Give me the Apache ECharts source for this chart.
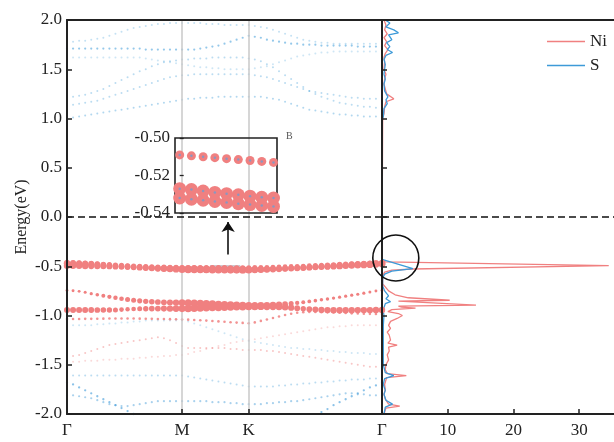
<!DOCTYPE html>
<html>
<head>
<meta charset="utf-8">
<script src="https://cdn.jsdelivr.net/npm/echarts@6/dist/echarts.min.js"></script>
<style>
  html, body { margin: 0; padding: 0; background: #fff; }
  #main { width: 614px; height: 442px; }
</style>
</head>
<body>
<div id="main"></div>
<script>
// k-path index: Γ(0) - M(19) - K(30) - Γ(52)
var kTicks = [0, 19, 30, 52];
var kLabels = ['Γ', 'M', 'K', 'Γ'];
var dosTicks = [10, 20, 30];

// fat bands (Ni weight shown by dot size)
var bandR1 = [-0.460,-0.461,-0.463,-0.466,-0.469,-0.473,-0.477,-0.481,-0.485,-0.489,-0.492,-0.495,-0.498,-0.501,-0.503,-0.505,-0.507,-0.508,-0.509,-0.510,
  -0.510,-0.511,-0.511,-0.511,-0.512,-0.512,-0.512,-0.513,-0.513,-0.513,-0.513,
  -0.512,-0.511,-0.510,-0.508,-0.506,-0.504,-0.502,-0.500,-0.497,-0.494,-0.491,-0.488,-0.485,-0.482,-0.479,-0.476,-0.473,-0.470,-0.467,-0.464,-0.462,-0.460];
var bandR2 = [-0.470,-0.471,-0.473,-0.476,-0.479,-0.483,-0.487,-0.491,-0.495,-0.499,-0.502,-0.506,-0.509,-0.512,-0.515,-0.518,-0.520,-0.522,-0.524,-0.526,
  -0.527,-0.528,-0.529,-0.530,-0.530,-0.531,-0.531,-0.532,-0.532,-0.533,-0.533,
  -0.532,-0.531,-0.529,-0.527,-0.525,-0.522,-0.519,-0.516,-0.513,-0.510,-0.506,-0.502,-0.499,-0.495,-0.492,-0.489,-0.486,-0.483,-0.480,-0.477,-0.474,-0.472];
var bandR3 = [-0.495,-0.495,-0.496,-0.497,-0.498,-0.499,-0.500,-0.502,-0.504,-0.506,-0.508,-0.511,-0.514,-0.517,-0.520,-0.523,-0.526,-0.528,-0.530,-0.532,
  -0.533,-0.533,-0.534,-0.534,-0.535,-0.535,-0.536,-0.536,-0.536,-0.537,-0.537,
  -0.536,-0.535,-0.533,-0.531,-0.529,-0.526,-0.523,-0.520,-0.517,-0.514,-0.511,-0.508,-0.505,-0.502,-0.499,-0.496,-0.493,-0.490,-0.487,-0.484,-0.480,-0.477];
var bandR4 = [-0.745,-0.748,-0.755,-0.765,-0.778,-0.790,-0.800,-0.810,-0.820,-0.830,-0.838,-0.845,-0.851,-0.856,-0.860,-0.863,-0.866,-0.868,-0.869,-0.870,
  -0.872,-0.875,-0.878,-0.881,-0.884,-0.887,-0.890,-0.893,-0.896,-0.898,-0.900,
  -0.900,-0.899,-0.897,-0.894,-0.890,-0.885,-0.879,-0.872,-0.865,-0.857,-0.849,-0.841,-0.832,-0.823,-0.814,-0.804,-0.794,-0.784,-0.773,-0.762,-0.752,-0.745];
var bandR5 = [-0.944,-0.944,-0.944,-0.944,-0.944,-0.944,-0.944,-0.944,-0.943,-0.940,-0.937,-0.934,-0.932,-0.931,-0.930,-0.930,-0.930,-0.930,-0.930,-0.930,
  -0.928,-0.926,-0.924,-0.922,-0.920,-0.918,-0.916,-0.914,-0.912,-0.911,-0.910,
  -0.910,-0.910,-0.911,-0.912,-0.914,-0.917,-0.921,-0.926,-0.931,-0.936,-0.940,-0.943,-0.945,-0.946,-0.946,-0.946,-0.946,-0.945,-0.945,-0.945,-0.944,-0.944];
var bandR6 = [-1.035,-1.035,-1.035,-1.034,-1.034,-1.033,-1.032,-1.031,-1.030,-1.030,-1.030,-1.031,-1.032,-1.033,-1.034,-1.035,-1.036,-1.037,-1.038,-1.040,
  -1.042,-1.045,-1.048,-1.052,-1.056,-1.060,-1.064,-1.068,-1.072,-1.075,-1.078,
  -1.070,-1.055,-1.040,-1.025,-1.010,-0.995,-0.982,-0.972,-0.966,-0.964,-0.964,-0.966,-0.968,-0.970,-0.972,-0.975,-0.978,-0.980,-0.982,-0.983,-0.984,-0.985];

var weightR23 = [0.70,0.70,0.70,0.70,0.68,0.66,0.64,0.62,0.60,0.60,0.60,0.60,0.62,0.64,0.66,0.68,0.70,0.72,0.75,0.80,
  0.85,0.85,0.85,0.85,0.85,0.85,0.85,0.85,0.85,0.85,0.80,
  0.75,0.72,0.70,0.68,0.66,0.65,0.64,0.64,0.64,0.64,0.65,0.66,0.67,0.68,0.70,0.70,0.72,0.72,0.74,0.74,0.75,0.75];
var weightR4 = [0.20,0.20,0.20,0.22,0.25,0.30,0.35,0.40,0.42,0.45,0.50,0.50,0.52,0.55,0.58,0.60,0.62,0.65,0.70,0.75,
  0.80,0.82,0.85,0.85,0.85,0.85,0.85,0.85,0.85,0.85,0.85,
  0.80,0.78,0.75,0.72,0.68,0.60,0.50,0.40,0.35,0.32,0.30,0.28,0.28,0.26,0.25,0.25,0.25,0.24,0.24,0.22,0.20,0.20];
var weightR5 = [0.65,0.65,0.65,0.65,0.62,0.60,0.58,0.55,0.50,0.45,0.42,0.45,0.50,0.55,0.60,0.62,0.65,0.70,0.75,0.80,
  0.85,0.85,0.85,0.85,0.85,0.85,0.85,0.85,0.85,0.85,0.80,
  0.80,0.78,0.76,0.74,0.72,0.70,0.68,0.62,0.55,0.60,0.65,0.68,0.70,0.70,0.70,0.70,0.70,0.70,0.70,0.70,0.70,0.70];
var weightR1 = 0.45;

// weak bands
var bandU1 = [1.01,1.01,1.02,1.03,1.04,1.05,1.06,1.07,1.08,1.09,1.10,1.11,1.12,1.13,1.14,1.15,1.16,1.17,1.18,1.19,
  1.20,1.20,1.21,1.21,1.21,1.22,1.22,1.22,1.22,1.22,1.22,
  1.22,1.22,1.21,1.20,1.19,1.17,1.15,1.13,1.11,1.09,1.08,1.07,1.06,1.05,1.04,1.04,1.03,1.03,1.02,1.02,1.02,1.02];
var bandU2 = [1.14,1.14,1.15,1.16,1.17,1.18,1.20,1.22,1.24,1.26,1.28,1.30,1.32,1.34,1.36,1.38,1.40,1.42,1.43,1.44,
  1.44,1.45,1.45,1.45,1.45,1.45,1.45,1.45,1.45,1.45,1.45,
  1.44,1.43,1.42,1.40,1.38,1.36,1.34,1.32,1.30,1.28,1.27,1.26,1.25,1.24,1.23,1.22,1.21,1.21,1.20,1.20,1.20,1.20];
var bandU3 = [1.22,1.22,1.23,1.24,1.26,1.28,1.30,1.33,1.36,1.39,1.42,1.45,1.48,1.50,1.53,1.55,1.57,1.58,1.59,1.60,
  1.60,1.61,1.61,1.61,1.62,1.62,1.62,1.62,1.62,1.62,1.61,
  1.60,1.58,1.55,1.52,1.48,1.44,1.40,1.36,1.32,1.28,1.25,1.22,1.20,1.18,1.16,1.15,1.14,1.13,1.12,1.12,1.11,1.11];
var bandU4 = [1.71,1.71,1.71,1.71,1.71,1.71,1.71,1.71,1.71,1.71,1.71,1.71,1.71,1.70,1.70,1.70,1.70,1.70,1.70,1.70,
  1.70,1.70,1.71,1.72,1.73,1.74,1.76,1.78,1.80,1.82,1.84,
  1.83,1.82,1.80,1.79,1.78,1.77,1.76,1.76,1.75,1.75,1.75,1.74,1.74,1.74,1.74,1.74,1.74,1.73,1.73,1.73,1.73,1.73];
var bandU5 = [1.78,1.78,1.79,1.79,1.80,1.81,1.82,1.84,1.86,1.88,1.90,1.92,1.93,1.94,1.95,1.96,1.96,1.97,1.97,1.97,
  1.97,1.97,1.97,1.96,1.96,1.96,1.95,1.95,1.95,1.95,1.95,
  1.94,1.93,1.92,1.90,1.88,1.86,1.84,1.82,1.80,1.79,1.78,1.77,1.77,1.76,1.76,1.76,1.76,1.76,1.76,1.76,1.76,1.76];
var bandU6 = [1.62,1.62,1.62,1.62,1.62,1.62,1.62,1.62,1.62,1.62,1.62,1.62,1.62,1.61,1.60,1.59,1.58,1.57,1.56,1.55,
  1.54,1.53,1.52,1.52,1.51,1.51,1.50,1.50,1.50,1.50,1.50,
  1.51,1.52,1.53,1.55,1.57,1.59,1.61,1.63,1.64,1.65,1.66,1.67,1.67,1.68,1.68,1.68,1.68,1.68,1.68,1.68,1.68,1.68];
var bandL1 = [-1.42,-1.41,-1.40,-1.38,-1.36,-1.34,-1.32,-1.30,-1.29,-1.28,-1.27,-1.26,-1.25,-1.24,-1.23,-1.22,-1.23,-1.25,-1.28,-1.31,
  -1.33,-1.33,-1.33,-1.33,-1.33,-1.33,-1.33,-1.34,-1.34,-1.35,-1.35,
  -1.35,-1.35,-1.36,-1.36,-1.37,-1.38,-1.39,-1.40,-1.41,-1.42,-1.43,-1.44,-1.45,-1.46,-1.47,-1.48,-1.49,-1.50,-1.51,-1.52,-1.52,-1.52];
var bandL2 = [-1.61,-1.61,-1.61,-1.61,-1.61,-1.61,-1.61,-1.61,-1.61,-1.61,-1.61,-1.61,-1.61,-1.61,-1.61,-1.61,-1.61,-1.61,-1.61,-1.61,
  -1.62,-1.63,-1.64,-1.65,-1.66,-1.67,-1.68,-1.69,-1.70,-1.71,-1.72,
  -1.72,-1.72,-1.72,-1.72,-1.71,-1.71,-1.70,-1.70,-1.69,-1.69,-1.68,-1.68,-1.67,-1.67,-1.66,-1.66,-1.65,-1.65,-1.65,-1.64,-1.64,-1.64];
var bandL3 = [-1.68,-1.70,-1.73,-1.76,-1.79,-1.82,-1.85,-1.88,-1.91,-1.94,-1.97,-2.00,null,null,null,null,null,null,null,null,
  null,null,null,null,null,null,null,null,null,null,null,
  null,null,null,null,null,null,null,null,null,null,-2.02,-1.98,-1.95,-1.91,-1.88,-1.85,-1.82,-1.79,-1.76,-1.73,-1.71,-1.68];
var bandL4 = [-1.81,-1.81,-1.82,-1.83,-1.84,-1.86,-1.88,-1.90,-1.91,-1.92,-1.92,-1.91,-1.90,-1.89,-1.88,-1.87,-1.87,-1.87,-1.87,-1.87,
  -1.87,-1.87,-1.87,-1.87,-1.88,-1.88,-1.88,-1.89,-1.89,-1.90,-1.90,
  -1.90,-1.90,-1.89,-1.89,-1.88,-1.88,-1.87,-1.87,-1.86,-1.85,-1.84,-1.83,-1.82,-1.81,-1.80,-1.79,-1.79,-1.80,-1.80,-1.81,-1.81,-1.81];
var bandL6 = [-1.47,-1.47,-1.47,-1.46,-1.46,-1.46,-1.45,-1.45,-1.45,-1.44,-1.44,-1.44,-1.43,-1.43,-1.42,-1.42,-1.41,-1.41,-1.40,-1.40,
  -1.39,-1.37,-1.36,-1.34,-1.33,-1.31,-1.30,-1.28,-1.27,-1.26,-1.25,
  -1.24,-1.23,-1.22,-1.21,-1.20,-1.19,-1.18,-1.17,-1.16,-1.15,-1.14,-1.13,-1.12,-1.12,-1.11,-1.11,-1.10,-1.10,-1.10,-1.10,-1.10,-1.10];
var bandL7 = [-1.10,-1.10,-1.10,-1.10,-1.10,-1.09,-1.09,-1.08,-1.08,-1.07,-1.07,-1.06,-1.06,-1.05,-1.05,-1.05,-1.05,-1.05,-1.05,-1.05,
  -1.06,-1.08,-1.10,-1.12,-1.14,-1.16,-1.18,-1.20,-1.22,-1.24,-1.26,
  -1.27,-1.28,-1.29,-1.30,-1.31,-1.32,-1.33,-1.33,-1.34,-1.34,-1.35,-1.35,-1.36,-1.36,-1.37,-1.37,-1.38,-1.38,-1.38,-1.39,-1.39,-1.39];

// zoomed inset rows (between M and K)
var insetRow1 = [-0.5090,-0.5095,-0.5100,-0.5105,-0.5110,-0.5115,-0.5120,-0.5125,-0.5130];
var insetRow2 = [-0.5270,-0.5275,-0.5283,-0.5290,-0.5297,-0.5303,-0.5310,-0.5316,-0.5320];
var insetRow3 = [-0.5320,-0.5326,-0.5332,-0.5338,-0.5344,-0.5350,-0.5355,-0.5360,-0.5365];

// projected DOS: energy (eV) and states
var dosNiE = [2.00,1.95,1.90,1.86,1.82,1.78,1.74,1.70,1.66,1.62,1.58,1.50,1.45,1.40,1.35,1.30,1.25,1.20,1.17,1.12,1.05,1.00,0.98,
  -0.43,-0.44,-0.455,-0.494,-0.528,-0.54,-0.56,-0.60,-0.68,-0.71,-0.75,-0.79,-0.82,-0.845,-0.855,-0.875,-0.894,-0.905,-0.915,-0.925,
  -0.94,-0.96,-0.98,-1.00,-1.03,-1.06,-1.10,-1.13,-1.17,-1.20,-1.25,-1.28,-1.30,-1.32,-1.36,-1.40,-1.45,-1.50,-1.55,-1.59,-1.61,
  -1.63,-1.70,-1.75,-1.80,-1.85,-1.90,-1.92,-1.94,-2.00];
var dosNiV = [0.3,0.6,0.4,0.8,0.3,0.7,0.4,0.9,0.5,0.3,0.4,0.3,0.6,0.4,0.3,0.5,0.7,1.8,0.6,0.4,0.3,0.1,0,
  0,0.2,0.5,34.5,4.7,1.5,0.4,0.1,0.1,0.5,1.0,2.0,4.0,10.3,2.5,2.3,14.3,2.5,3.0,5.1,
  1.5,0.9,2.5,3.1,2.3,1.3,1.0,1.3,0.8,1.1,1.3,0.9,2.3,1.0,1.1,0.8,1.0,0.6,0.5,0.8,3.7,
  0.7,0.4,0.5,0.3,0.5,1.0,2.7,0.6,0.3];
var dosSE = [2.00,1.97,1.93,1.90,1.87,1.85,1.80,1.77,1.73,1.70,1.67,1.64,1.60,1.55,1.50,1.45,1.40,1.35,1.28,1.22,1.19,1.15,1.10,1.02,0.98,
  -0.43,-0.45,-0.525,-0.55,-0.58,-0.62,-0.70,-0.75,-0.80,-0.83,-0.86,-0.88,-0.90,-0.92,-0.96,-1.00,-1.10,-1.30,-1.50,
  -1.58,-1.61,-1.64,-1.70,-1.76,-1.80,-1.86,-1.90,-1.93,-2.00];
var dosSV = [0.5,1.2,0.6,1.8,2.5,1.0,1.5,0.7,1.2,0.8,1.6,0.6,0.3,0.5,0.4,0.3,0.5,0.3,0.4,0.9,0.6,0.8,0.3,0.2,0,
  0,0.3,4.7,1.5,0.4,0.1,0.1,0.4,1.0,0.6,1.3,0.5,0.8,0.3,0.2,0.3,0.2,0.2,0.2,
  0.5,1.8,0.4,0.2,0.5,0.3,0.6,1.6,0.5,0.3];

var NI = '#f08080', S = '#3d9ad8';
var FONT = 'Liberation Serif';
// annotation spots (data coords)
var zoomBox = [[23.6, -0.487], [28.6, -0.558]];
var arrowLine = [[26.6, -0.38], [26.6, -0.05]];
var circleAt = [2.1, -0.416];

function pts(E, w) {
  var out = [];
  E.forEach(function (e, i) {
    if (e !== null) out.push([i, e, Array.isArray(w) ? w[i] : w]);
  });
  return out;
}
function fat(E, w) {
  return { type: 'scatter', xAxisIndex: 0, yAxisIndex: 0, data: pts(E, w), z: 5,
    symbolSize: function (d) { return 1.5 + 7 * d[2]; }, itemStyle: { color: NI, opacity: 1 } };
}
function weak(E, color, op, size) {
  return { type: 'scatter', xAxisIndex: 0, yAxisIndex: 0, data: pts(E, 0), z: 3,
    symbolSize: size, itemStyle: { color: color, opacity: op } };
}
function inset(row, size) {
  var d = row.map(function (e, i) { return [i, e]; });
  return [
    { type: 'scatter', xAxisIndex: 4, yAxisIndex: 2, data: d, symbolSize: size,
      itemStyle: { color: NI, opacity: 1 }, z: 20 },
    { type: 'scatter', xAxisIndex: 4, yAxisIndex: 2, data: d, symbolSize: 2.5,
      itemStyle: { color: '#8a97c0', opacity: 1 }, z: 21 }
  ];
}
function pair(E, V) { return E.map(function (e, i) { return [V[i], e]; }); }

var chart = echarts.init(document.getElementById('main'));
var txt = { fontFamily: FONT, fontSize: 17, color: '#222' };
var blackLine = { onZero: false, lineStyle: { color: '#222', width: 2 } };

var series = [
  // M and K guides
  { type: 'scatter', xAxisIndex: 0, yAxisIndex: 0, data: [], z: 1,
    markLine: { silent: true, symbol: 'none', label: { show: false },
      lineStyle: { color: '#c8c8c8', width: 1.5, type: 'solid' },
      data: [{ xAxis: kTicks[1] }, { xAxis: kTicks[2] }] } },
  weak(bandU1, S, 0.4, 2), weak(bandU2, S, 0.35, 2), weak(bandU3, S, 0.35, 2),
  weak(bandU4, S, 0.55, 2.2), weak(bandU5, S, 0.3, 2), weak(bandU6, S, 0.25, 2),
  weak(bandL1, NI, 0.45, 2), weak(bandL2, S, 0.35, 2), weak(bandL3, S, 0.6, 2.3),
  weak(bandL4, S, 0.45, 2.2), weak(bandL6, NI, 0.3, 2), weak(bandL7, S, 0.25, 2),
  weak(bandR6, NI, 0.85, 2.6),
  fat(bandR1, weightR1), fat(bandR4, weightR4), fat(bandR5, weightR5),
  fat(bandR2, weightR23), fat(bandR3, weightR23),
  // zero line, zoom box, arrow
  { type: 'scatter', xAxisIndex: 0, yAxisIndex: 0, data: [], z: 10,
    markLine: { silent: true, symbol: 'none', label: { show: false },
      lineStyle: { color: '#111', width: 1.5, type: [7, 4] }, data: [{ yAxis: 0 }] },
    markArea: { silent: true, itemStyle: { color: 'rgba(170,168,180,0.6)' },
      data: [[{ coord: zoomBox[0] }, { coord: zoomBox[1] }]] } },
  { type: 'scatter', xAxisIndex: 0, yAxisIndex: 0, data: [], z: 11,
    markLine: { silent: true, symbol: ['none', 'arrow'], symbolSize: 10, label: { show: false },
      lineStyle: { color: '#111', width: 1.6, type: 'solid' },
      data: [[{ coord: arrowLine[0] }, { coord: arrowLine[1] }]] } },
  // DOS
  { name: 'Ni', type: 'line', xAxisIndex: 2, yAxisIndex: 1, data: pair(dosNiE, dosNiV), symbol: 'none',
    lineStyle: { color: NI, width: 1.3 }, itemStyle: { color: NI }, z: 2,
    markLine: { silent: true, symbol: 'none', label: { show: false },
      lineStyle: { color: '#111', width: 1.5, type: [7, 4] }, data: [{ yAxis: 0 }] } },
  { name: 'S', type: 'line', xAxisIndex: 2, yAxisIndex: 1, data: pair(dosSE, dosSV), symbol: 'none',
    lineStyle: { color: S, width: 1.3 }, itemStyle: { color: S }, z: 2 }
].concat(inset(insetRow1, 9), inset(insetRow2, 13), inset(insetRow3, 13));

chart.setOption({
  animation: false,
  textStyle: { fontFamily: FONT },
  legend: { data: ['Ni', 'S'], orient: 'vertical', right: 2, top: 28, icon: 'rect',
    itemWidth: 38, itemHeight: 1.5, itemGap: 7,
    textStyle: { fontFamily: FONT, fontSize: 17, color: '#222' } },
  grid: [
    { left: 67, top: 20, width: 315, height: 394, outerBoundsMode: 'none' },
    { left: 382, top: 20, width: 232, height: 394, outerBoundsMode: 'none' },
    { left: 175, top: 138, width: 102, height: 75, show: true, borderColor: '#222', borderWidth: 1.6,
      backgroundColor: 'transparent', z: 15, outerBoundsMode: 'none' }
  ],
  xAxis: [
    { gridIndex: 0, type: 'value', min: 0, max: 52, axisLine: blackLine, splitLine: { show: false }, z: 8,
      axisTick: { inside: true, length: 5, customValues: kTicks.slice(1, 3), lineStyle: { color: '#222', width: 1.5 } },
      axisLabel: Object.assign({ customValues: kTicks, margin: 8,
        formatter: function (v) { return kLabels[kTicks.indexOf(v)]; } }, txt) },
    { gridIndex: 0, type: 'value', position: 'top', min: 0, max: 52, axisLine: blackLine, z: 8,
      axisTick: { show: false }, axisLabel: { show: false }, splitLine: { show: false } },
    { gridIndex: 1, type: 'value', min: 0, max: 35.3, axisLine: blackLine, splitLine: { show: false }, z: 8,
      axisTick: { inside: true, length: 5, customValues: dosTicks, lineStyle: { color: '#222', width: 1.5 } },
      axisLabel: Object.assign({ customValues: dosTicks, margin: 8 }, txt) },
    { gridIndex: 1, type: 'value', position: 'top', min: 0, max: 35.3, axisLine: blackLine, z: 8,
      axisTick: { show: false }, axisLabel: { show: false }, splitLine: { show: false } },
    { gridIndex: 2, type: 'value', min: -0.4, max: 8.3, show: false }
  ],
  yAxis: [
    { gridIndex: 0, type: 'value', min: -2, max: 2, interval: 0.5, axisLine: blackLine, splitLine: { show: false }, z: 8,
      axisTick: { inside: true, length: 5, lineStyle: { color: '#222', width: 1.5 } },
      axisLabel: Object.assign({ margin: 5, formatter: function (v) { return v.toFixed(1); } }, txt),
      name: 'Energy(eV)', nameLocation: 'middle', nameGap: 37, nameMoveOverlap: false,
      nameTextStyle: { fontFamily: FONT, fontSize: 16, color: '#222' } },
    { gridIndex: 1, type: 'value', min: -2, max: 2, interval: 0.5, axisLine: blackLine, splitLine: { show: false }, z: 8,
      axisTick: { inside: true, length: 5, lineStyle: { color: '#222', width: 1.5 } }, axisLabel: { show: false } },
    { gridIndex: 2, type: 'value', min: -0.54, max: -0.50, interval: 0.02, splitLine: { show: false },
      axisLine: { show: false }, z: 16,
      axisTick: { inside: true, length: 4, lineStyle: { color: '#222', width: 1.3 } },
      axisLabel: Object.assign({ margin: 5, formatter: function (v) { return v.toFixed(2); } }, txt) }
  ],
  series: series
});

var c = chart.convertToPixel({ xAxisIndex: 2, yAxisIndex: 1 }, circleAt);
chart.setOption({
  graphic: [
    { type: 'circle', shape: { cx: c[0], cy: c[1], r: 23 }, style: { fill: 'none', stroke: '#111', lineWidth: 1.6 }, z: 30 },
    { type: 'text', left: 286, top: 131, style: { text: 'B', font: '10px "Liberation Serif"', fill: '#555' }, z: 30 }
  ]
});
</script>
</body>
</html>
